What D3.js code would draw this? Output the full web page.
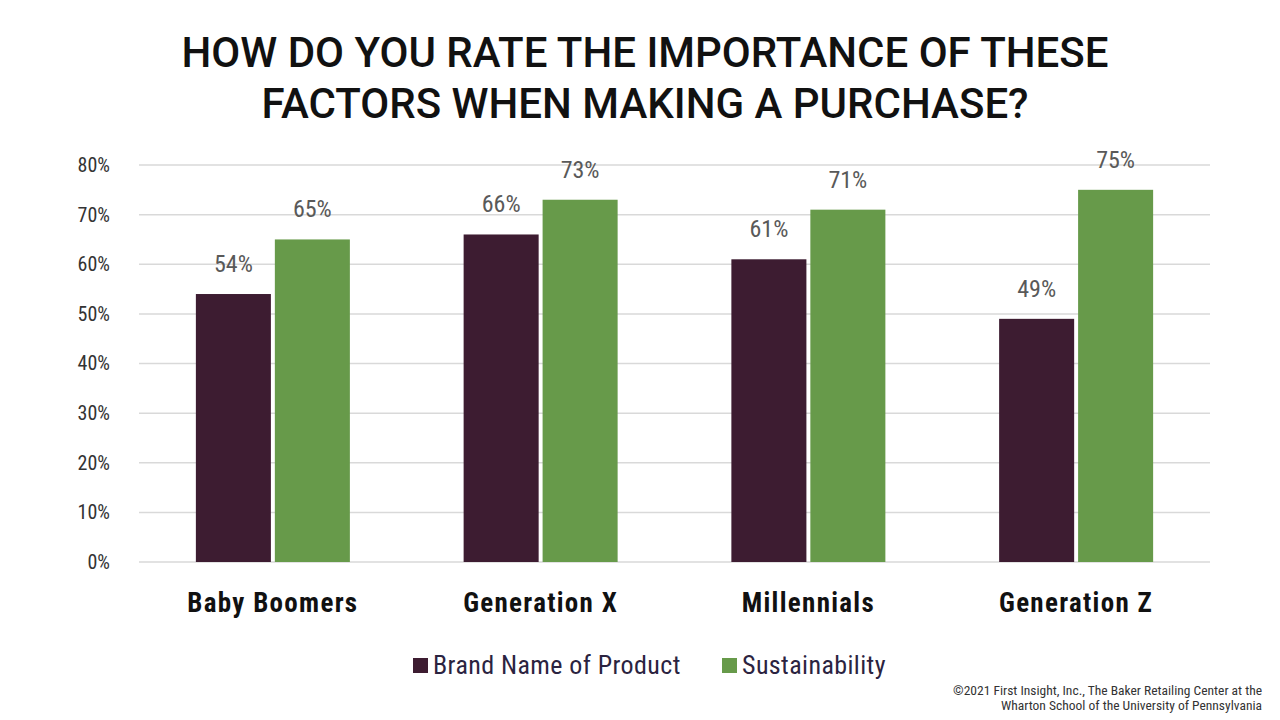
<!DOCTYPE html>
<html>
<head>
<meta charset="utf-8">
<script src="https://cdn.jsdelivr.net/npm/d3@7"></script>
<style>
  body { margin: 0; background: #fff; }
  svg { display: block; }
  .cond { font-family: "Roboto Condensed", "DejaVu Sans Condensed", "Liberation Sans Narrow", "Roboto", sans-serif; font-stretch: condensed; }
</style>
</head>
<body>
<svg id="chart" width="1280" height="720"></svg>
<script>
// chart data
const groups = ["Baby Boomers", "Generation X", "Millennials", "Generation Z"];
const seriesNames = ["Brand Name of Product", "Sustainability"];
const brandValues = [54, 66, 61, 49];
const sustainValues = [65, 73, 71, 75];
const yTicks = [0, 10, 20, 30, 40, 50, 60, 70, 80];

const colors = ["#3d1c31", "#679a4a"];

const svg = d3.select("#chart");
const margin = { top: 165, right: 70, bottom: 158, left: 139 };
const width = 1280 - margin.left - margin.right;
const height = 720 - margin.top - margin.bottom;

// title
const title = svg.append("text")
    .attr("x", 645)
    .attr("text-anchor", "middle")
    .style("font-family", "Roboto, sans-serif")
    .style("font-weight", "500")
    .style("font-size", "42px")
    .attr("fill", "#111");
title.append("tspan").attr("x", 645).attr("y", 67).text("HOW DO YOU RATE THE IMPORTANCE OF THESE");
title.append("tspan").attr("x", 645).attr("y", 118).text("FACTORS WHEN MAKING A PURCHASE?");

const g = svg.append("g").attr("transform", `translate(${margin.left},${margin.top})`);

const x0 = d3.scaleBand().domain(groups).range([0, width]).paddingInner(0).paddingOuter(0);
const x1 = d3.scaleBand().domain(seriesNames).range([0, 154]).paddingInner(0.05);
const y = d3.scaleLinear().domain([0, 80]).range([height, 0]);

// gridlines
g.append("g")
    .selectAll("line")
    .data(yTicks)
    .join("line")
    .attr("x1", 0)
    .attr("x2", width)
    .attr("y1", d => y(d))
    .attr("y2", d => y(d))
    .attr("stroke", "#d9d9d9")
    .attr("stroke-width", 1.5);

// y axis labels
const yAxis = d3.axisLeft(y).tickValues(yTicks).tickFormat(d => d + "%").tickSize(0).tickPadding(29);
const yg = g.append("g").call(yAxis);
yg.select(".domain").remove();
yg.selectAll("text")
    .attr("class", "cond")
    .style("font-size", "20px")
    .attr("fill", "#333");

const rows = groups.map((grp, i) => ({
    group: grp,
    values: [brandValues[i], sustainValues[i]].map((v, j) => ({ series: seriesNames[j], value: v, idx: j }))
}));

const gg = g.selectAll(".grp")
    .data(rows)
    .join("g")
    .attr("class", "grp")
    .attr("transform", d => `translate(${x0(d.group) + x0.bandwidth() / 2 - 77},0)`);

gg.selectAll("rect")
    .data(d => d.values)
    .join("rect")
    .attr("x", d => x1(d.series))
    .attr("y", d => y(d.value))
    .attr("width", x1.bandwidth())
    .attr("height", d => height - y(d.value))
    .attr("fill", d => colors[d.idx]);

gg.selectAll(".val")
    .data(d => d.values)
    .join("text")
    .attr("class", "val cond")
    .attr("x", d => x1(d.series) + x1.bandwidth() / 2)
    .attr("y", d => y(d.value) - 22)
    .attr("text-anchor", "middle")
    .style("font-size", "24px")
    .attr("fill", "#595959")
    .text(d => d.value + "%");

// category labels
const xAxis = d3.axisBottom(x0).tickSize(0).tickPadding(31);
const xg = g.append("g").attr("transform", `translate(0,${height})`).call(xAxis);
xg.select(".domain").remove();
xg.selectAll("text")
    .attr("class", "cond")
    .style("font-size", "27px")
    .style("font-weight", "bold")
    .style("letter-spacing", "1.3px")
    .attr("fill", "#111");

// legend
const legendItems = [
    { name: seriesNames[0], color: colors[0], x: 413 },
    { name: seriesNames[1], color: colors[1], x: 722 }
];
const lg = svg.append("g").selectAll("g")
    .data(legendItems)
    .join("g")
    .attr("transform", d => `translate(${d.x},658)`);
lg.append("rect").attr("width", 15).attr("height", 15).attr("fill", d => d.color);
lg.append("text")
    .attr("class", "cond")
    .attr("x", 20)
    .attr("y", 16)
    .style("font-size", "26px")
    .style("letter-spacing", "0.4px")
    .attr("fill", "#2b2340")
    .text(d => d.name);

// source note
const note = svg.append("text")
    .attr("class", "cond")
    .attr("text-anchor", "end")
    .style("font-size", "13.5px")
    .attr("fill", "#333");
note.append("tspan").attr("x", 1262).attr("y", 695).text("©2021 First Insight, Inc., The Baker Retailing Center at the");
note.append("tspan").attr("x", 1262).attr("y", 710).text("Wharton School of the University of Pennsylvania");
</script>
</body>
</html>
